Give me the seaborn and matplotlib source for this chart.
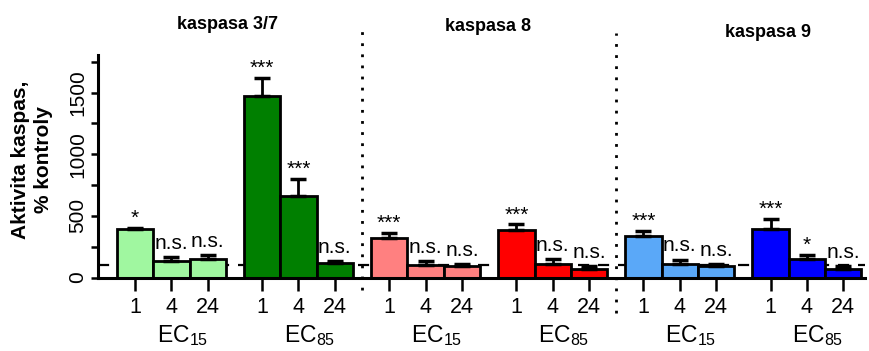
import numpy as np
import pandas as pd
import matplotlib
matplotlib.use('Agg')
import matplotlib.pyplot as plt
import seaborn as sns

# caspase activity, % of control
caspases = ['kaspasa 3/7', 'kaspasa 8', 'kaspasa 9']
doses = ['EC15', 'EC85']
dose_labels = [r'$\mathregular{EC_{15}}$', r'$\mathregular{EC_{85}}$']
times = ['1', '4', '24']

means = [390, 135, 150, 1470, 660, 115,
         320, 105, 90, 385, 112, 70,
         340, 110, 90, 395, 147, 70]
errs = [15, 30, 30, 150, 140, 15,
        40, 30, 20, 45, 35, 22,
        35, 35, 20, 80, 38, 20]
sig = ['*', 'n.s.', 'n.s.', '***', '***', 'n.s.',
       '***', 'n.s.', 'n.s.', '***', 'n.s.', 'n.s.',
       '***', 'n.s.', 'n.s.', '***', '*', 'n.s.']
colors = ['#a0f7a0', '#007f00', '#ff8080', '#ff0000', '#5aa8f8', '#0000ff']
control = 100

sns.set_style('ticks', rc={'text.color': 'black', 'xtick.color': 'black',
                           'ytick.color': 'black', 'axes.edgecolor': 'black'})
plt.rcParams['font.family'] = ['Liberation Sans', 'DejaVu Sans']

# build long table; each dose triplet is 3 slots wide, 0.5 slot gap between triplets
rows = []
for ci, casp in enumerate(caspases):
    for di, dose in enumerate(doses):
        for ti, t in enumerate(times):
            k = (ci * 2 + di) * 3 + ti
            rows.append({'group': f'{casp} {dose}', 'time': t,
                         'pos': (ci * 2 + di) * 3.5 + ti,
                         'mean': means[k], 'err': errs[k], 'sig': sig[k]})
df = pd.DataFrame(rows)

fig = plt.figure(figsize=(8.7, 3.51), dpi=100)
ax = fig.add_axes([98 / 870, 1 - 277.5 / 351, 767 / 870, 222.5 / 351])

ax.axhline(control, color='black', lw=1.6, dashes=(5, 4), zorder=0.5)
sns.barplot(data=df, x='pos', y='mean', hue='group', palette=colors, saturation=1,
            native_scale=True, width=1, dodge=False, errorbar=None,
            edgecolor='black', linewidth=2, legend=False, ax=ax, zorder=2)
ax.errorbar(df['pos'], df['mean'], yerr=[np.zeros(len(df)), df['err']],
            fmt='none', ecolor='black', elinewidth=2, capsize=6, capthick=2.5, zorder=3)

for _, r in df.iterrows():
    small = '*' in r['sig']
    ax.annotate(r['sig'], xy=(r['pos'], r['mean'] + r['err']),
                xytext=(0, 0 if small else 3), textcoords='offset points',
                ha='center', va='bottom', fontsize=15)

ax.set_xlim(-1.02, 20.1)
ax.set_ylim(0, 1805)
ax.set_xticks(df['pos'])
ax.set_xticklabels(df['time'])
ax.set_yticks([0, 500, 1000, 1500])
ax.set_yticks([250, 750, 1250, 1750], minor=True)
ax.tick_params(axis='x', length=9, width=1.8, labelsize=15.5, pad=5)
ax.tick_params(axis='y', which='both', length=5, width=1.8, labelsize=15, pad=3,
               labelrotation=90)
for lab in ax.get_yticklabels():
    lab.set_va('center')
ax.set_xlabel('')
ax.set_ylabel('')
sns.despine(ax=ax)
for s in ['left', 'bottom']:
    ax.spines[s].set_linewidth(2.2)

# dose labels under each triplet
for gi, lab in enumerate(dose_labels * 3):
    ax.annotate(lab, xy=(gi * 3.5 + 1 - 0.4, 0), xycoords=('data', 'axes fraction'),
                xytext=(0, -46.5), textcoords='offset points', ha='left', va='baseline',
                fontsize=16.5)

# caspase titles and dotted separators
title_x = [2.54, 9.71, 17.43]
title_y = [1.135, 1.126, 1.103]
for casp, tx, ty in zip(caspases, title_x, title_y):
    ax.text(tx, ty, casp, transform=ax.get_xaxis_transform(), ha='center', va='center',
            fontsize=13, fontweight='bold')
for sx, y0, y1 in [(6.25, -0.056, 1.126), (13.25, -0.16, 1.099)]:
    ax.axvline(sx, ymin=y0, ymax=y1, color='black', lw=2, linestyle=(0, (1, 3)),
               clip_on=False)

fig.text(32 / 870, 1 - 160 / 351, 'Aktivita kaspas,\n% kontroly', rotation=90,
         ha='center', va='center', fontsize=15, fontweight='bold', linespacing=1.3,
         multialignment='center')

fig.savefig('out.png', dpi=100)
